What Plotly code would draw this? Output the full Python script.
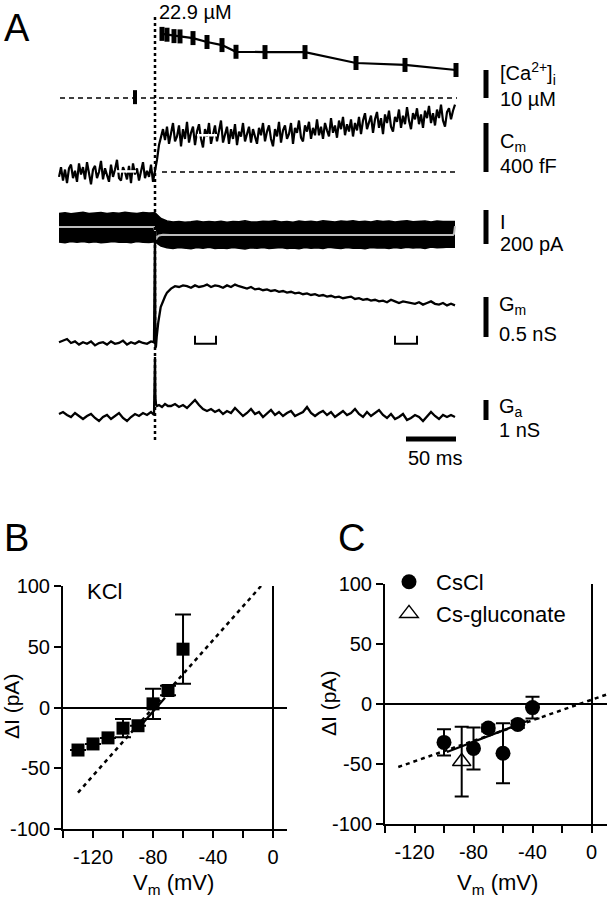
import numpy as np
import plotly.graph_objects as go

W, H = 607, 900
FONT = "Liberation Sans, Arial, sans-serif"

# ---------------- Panel A data (time in ms, stimulus at t = 0) ----------------
ca_pre_t = [-20]
ca_pre = [0.3]
ca_t = [7, 12, 19, 25, 38, 52, 67, 81, 110, 150, 201, 250, 301]
ca_val = [22.9, 22.6, 22.1, 22.0, 21.4, 20.0, 18.9, 16.5, 16.4, 16.4, 12.5, 11.8, 10.0]

cm_t = np.arange(-96, 301, 2)
cm_val = [-40, 40, -70, 20, -90, 30, 60, -50, 10, -80,
          70, -20, 40, -60, 80, -30, -100, 20, 50, -50,
          0, 90, -60, 30, -20, -80, 60, -40, 20, 100,
          -50, -70, 40, 0, -60, 50, -90, 70, -20, 30,
          -70, 20, 80, -50, 10, -40, 60, -80, 0,
          100, 220, 300, 350, 260,
          370, 230, 330, 400, 250, 290, 380, 210, 350, 270,
          410, 240, 320, 370, 220, 330, 390, 270, 200, 350,
          290, 400, 230, 320, 380, 250, 330, 420, 240, 300,
          370, 230, 350, 270, 390, 220, 330, 290, 400, 250,
          320, 370, 240, 350, 290,
          230, 360, 300, 400, 250, 330, 380, 270, 210, 350,
          290, 410, 240, 340, 380, 270, 310, 400, 230, 360,
          320, 420, 280, 250, 380, 330, 410, 270, 360, 300,
          430, 300, 370, 270, 400, 340, 290, 440, 320, 380,
          280, 420, 350, 450, 300, 390, 330, 430, 290, 400,
          340, 450, 310, 420, 480, 350, 400, 460, 320, 430,
          490, 360, 440, 310, 470, 400, 500, 370, 330, 450,
          410, 510, 360, 460, 390, 530, 420, 350, 480, 430,
          520, 390, 470, 360, 500, 440, 540, 400, 480, 380,
          510, 440, 550, 420, 370, 490, 520, 430, 500, 550]
cm_win_pre_t = [-39, -19]
cm_win_pre = [5, 5]
cm_win_post_t = [42, 62]
cm_win_post = [300, 300]

i_t = np.arange(-96, 301, 6)
i_top = [80, 84, 78, 83, 86, 79, 82, 85, 80, 84, 81, 87, 83, 79, 85, 82, 84,
         50, 36, 30, 33, 28, 31, 35, 29, 32, 30, 34, 28, 33, 31, 36, 30, 29, 34, 32, 37,
         30, 33, 28, 35, 31, 34, 29, 36, 32, 30, 35, 33, 37, 31, 34, 30, 36, 32, 35, 29,
         34, 37, 31, 33, 36, 30, 35, 32, 34, 33]
i_bot = [-88, -92, -86, -90, -85, -91, -87, -93, -89, -86, -90, -88, -92, -85, -89, -91, -87,
         -112, -122, -126, -120, -124, -128, -121, -125, -119, -127,
         -123, -126, -120, -124, -129, -122, -125, -121, -127, -123,
         -120, -126, -124, -128, -121, -125, -122, -127, -119, -124,
         -126, -121, -125, -123, -128, -120, -124, -122, -126, -121,
         -125, -119, -123, -121, -126, -118, -122, -120, -117, -119]
i_mean_t = [-96, -1, 0, 1, 2, 4, 8, 15, 298, 299, 300]
i_mean = [0, 0, -20, -75, -60, -50, -46, -47, -47, -40, 5]

gm_t = list(range(-96, 0, 4)) + [-1, 0, 0.4, 1, 1.7, 3.3, 5.7, 8, 10, 12] + list(range(16, 301, 4))
gm_val = [0.01, 0.03, 0.05, 0.00, 0.02, -0.02, 0.01, -0.01, 0.02, -0.03, 0.00, 0.01,
          -0.02, 0.02, -0.01, 0.00, 0.03, -0.02, 0.01, -0.01, 0.02, 0.00, -0.01, 0.02,
          0.01, 1.4, -0.06, -0.04, 0.075, 0.26, 0.45, 0.53, 0.58, 0.63,
          0.68, 0.71, 0.70, 0.72, 0.71, 0.69, 0.72, 0.70, 0.71, 0.73,
          0.70, 0.72, 0.71, 0.69, 0.72, 0.70, 0.73, 0.71, 0.69, 0.68,
          0.70, 0.67, 0.68, 0.66, 0.67, 0.65, 0.66, 0.64, 0.65, 0.63,
          0.64, 0.62, 0.63, 0.61, 0.62, 0.60, 0.61, 0.59, 0.60, 0.58,
          0.59, 0.57, 0.58, 0.56, 0.57, 0.58, 0.55, 0.56, 0.54, 0.55,
          0.53, 0.54, 0.52, 0.53, 0.51, 0.54, 0.52, 0.50, 0.52, 0.51,
          0.50, 0.49, 0.51, 0.48, 0.50, 0.52, 0.49, 0.48, 0.50, 0.47,
          0.49, 0.47]
gm_win1_t = [40, 40, 61, 61]
gm_win2_t = [240, 240, 262, 262]
gm_win_y = [0.09, -0.01, -0.01, 0.09]

ga_t = list(range(-96, 0, 4)) + [-1, 0, 0.4, 1, 2, 4, 7, 10, 13] + list(range(16, 301, 4))
ga_val = [0.05, 0.15, 0.0, -0.1, 0.1, -0.05, -0.2, -0.05, 0.05, -0.15, -0.3, -0.1,
          0.0, -0.2, -0.05, 0.1, -0.15, -0.3, -0.1, 0.05, -0.05, 0.1, 0.0, 0.15,
          0.0, 2.9, 0.9, 0.55, 0.45, 0.5, 0.4, 0.55, 0.45,
          0.45, 0.55, 0.4, 0.5, 0.35, 0.55, 0.75, 0.5, 0.3, 0.2,
          0.3, 0.15, 0.25, 0.05, 0.2, 0.1, 0.35, 0.15, -0.05, 0.1,
          0.3, 0.05, 0.15, -0.1, 0.1, 0.25, 0.0, 0.15, -0.05, 0.1,
          0.2, -0.05, 0.05, 0.15, 0.4, 0.1, -0.05, 0.1, 0.2, 0.0,
          0.15, -0.1, 0.05, 0.2, 0.0, 0.1, 0.3, 0.05, -0.1, 0.15,
          -0.05, 0.1, 0.25, 0.0, -0.15, 0.05, -0.2, -0.1, 0.05, -0.25,
          -0.15, 0.0, -0.1, -0.3, -0.05, 0.15, -0.05, -0.2, 0.0, -0.1,
          0.0, -0.1]

# scale bars (value extents)
sb_x = 331
sb_ca = [0, 10]
sb_cm = [0, 400]
sb_i = [-100, 100]
sb_gm = [0.075, 0.575]
sb_ga = [-0.25, 0.75]
sb_time = [251, 301]
sb_time_y = -1.2

# ---------------- Panel B data ----------------
kcl_v = [-130, -120, -110, -100, -90, -80, -70, -60]
kcl_i = [-35, -30, -25, -17, -15, 3, 14, 48]
kcl_err = [0, 0, 0, 7.5, 0, 12.5, 4, 28.5]
kcl_fit_v = [-91, -72]
kcl_fit_i = [-19, 8]
kcl_dot_v = [-130, -8]
kcl_dot_i = [-70, 100]

# ---------------- Panel C data ----------------
cscl_v = [-100, -80, -70, -60, -50, -40]
cscl_i = [-32, -37, -20, -41, -17, -3]
cscl_err = [11, 17.5, 3, 25, 3, 9]
csg_v = [-88]
csg_i = [-48]
csg_err = [29]
cscl_fit_v = [-98, -43]
cscl_fit_i = [-40, -14]
cscl_dot_v = [-131, 10.5]
cscl_dot_i = [-52.5, 8]

iv_major_x = [-120, -80, -40, 0]
iv_major_x_text = ["-120", "-80", "-40", "0"]
iv_minor_x = [-140, -100, -60, -20]
iv_ticks_y = [-100, -50, 0, 50, 100]
iv_ticks_y_text = ["-100", "-50", "0", "50", "100"]


def px(x):
    return x / W


def py(y):
    return 1 - y / H


def band(ytop, ybot, y0, k):
    dom = [py(ybot), py(ytop)]
    rng = [(y0 - ybot) / k, (y0 - ytop) / k]
    return dom, rng


fig = go.Figure()


def line(x, y, xa, ya, width=2, color="black", dash=None, mode="lines"):
    fig.add_trace(go.Scatter(x=x, y=y, xaxis=xa, yaxis=ya, mode=mode,
                             line=dict(color=color, width=width, dash=dash),
                             showlegend=False, hoverinfo="skip"))


# Ca trace
line([-95, 302], [0, 0], "x", "y", width=1.3, dash="5px,4px")
fig.add_trace(go.Scatter(x=ca_pre_t, y=ca_pre, xaxis="x", yaxis="y", mode="markers",
                         marker=dict(symbol="line-ns", size=10, line=dict(color="black", width=4)),
                         showlegend=False))
fig.add_trace(go.Scatter(x=ca_t, y=ca_val, xaxis="x", yaxis="y", mode="lines+markers",
                         line=dict(color="black", width=2.2),
                         marker=dict(symbol="line-ns", size=10, line=dict(color="black", width=5)),
                         showlegend=False))
# Cm trace
line([7, 302], [0, 0], "x", "y2", width=1.3, dash="5px,4px")
line(cm_t, cm_val, "x", "y2", width=2.2)
line(cm_win_pre_t, cm_win_pre, "x", "y2", width=2.5, color="white")
line(cm_win_post_t, cm_win_post, "x", "y2", width=2.5, color="white")
# I trace
line(i_t, i_top, "x", "y3", width=1.5)
fig.add_trace(go.Scatter(x=i_t, y=i_bot, xaxis="x", yaxis="y3", mode="lines",
                         line=dict(color="black", width=1.5), fill="tonexty",
                         fillcolor="black", showlegend=False))
line(i_mean_t, i_mean, "x", "y3", width=2, color="#bdbdbd")
# Gm trace
line(gm_t, gm_val, "x", "y4", width=2.3)
line(gm_win1_t, gm_win_y, "x", "y4", width=2)
line(gm_win2_t, gm_win_y, "x", "y4", width=2)
# Ga trace
line(ga_t, ga_val, "x", "y5", width=2.3)

# scale bars
line([sb_x, sb_x], sb_ca, "x", "y", width=5)
line([sb_x, sb_x], sb_cm, "x", "y2", width=5)
line([sb_x, sb_x], sb_i, "x", "y3", width=5)
line([sb_x, sb_x], sb_gm, "x", "y4", width=5)
line([sb_x, sb_x], sb_ga, "x", "y5", width=5)
line(sb_time, [sb_time_y, sb_time_y], "x", "y5", width=5)

# Panel B
line(kcl_dot_v, kcl_dot_i, "x2", "y6", width=2.5, dash="4px,4px")
line(kcl_fit_v, kcl_fit_i, "x2", "y6", width=2.2)
fig.add_trace(go.Scatter(x=kcl_v, y=kcl_i, xaxis="x2", yaxis="y6", mode="markers",
                         marker=dict(symbol="square", size=13, color="black"),
                         error_y=dict(type="data", array=kcl_err, thickness=2, width=8, color="black"),
                         showlegend=False))

# Panel C
line(cscl_dot_v, cscl_dot_i, "x3", "y7", width=2.5, dash="4px,4px")
line(cscl_fit_v, cscl_fit_i, "x3", "y7", width=2.2)
fig.add_trace(go.Scatter(x=cscl_v, y=cscl_i, xaxis="x3", yaxis="y7", mode="markers", name="CsCl",
                         marker=dict(symbol="circle", size=15, color="black"),
                         error_y=dict(type="data", array=cscl_err, thickness=2, width=7, color="black"),
                         showlegend=True))
fig.add_trace(go.Scatter(x=csg_v, y=csg_i, xaxis="x3", yaxis="y7", mode="markers", name="Cs-gluconate",
                         marker=dict(symbol="triangle-up-open", size=16, color="black",
                                     line=dict(width=1.5, color="black")),
                         error_y=dict(type="data", array=csg_err, thickness=2, width=7, color="black"),
                         showlegend=True))

hidden = dict(visible=False, fixedrange=True)
ca_dom, ca_rng = band(0, 110, 98, 2.8)
cm_dom, cm_rng = band(100, 195, 172, 0.1225)
i_dom, i_rng = band(190, 262, 227, 0.17)
gm_dom, gm_rng = band(200, 365, 343, 80)
ga_dom, ga_rng = band(340, 450, 415, 20)

common = dict(showline=True, linewidth=2, linecolor="black", ticks="outside", ticklen=7, tickwidth=2,
              tickcolor="black", showgrid=False, zeroline=True, zerolinewidth=2, zerolinecolor="black",
              tickfont=dict(size=20, color="black", family=FONT), automargin=False)
ivx = dict(tickvals=iv_major_x, ticktext=iv_major_x_text, ticklabelstandoff=2,
           minor=dict(tickvals=iv_minor_x, ticks="outside", ticklen=7, tickwidth=2, tickcolor="black",
                      showgrid=False),
           **common)
ivy = dict(tickvals=iv_ticks_y, ticktext=iv_ticks_y_text, range=[-100, 100], **common)

fig.update_layout(
    width=W, height=H, margin=dict(l=0, r=0, t=0, b=0),
    paper_bgcolor="white", plot_bgcolor="rgba(0,0,0,0)",
    font=dict(family=FONT, color="black", size=20),
    xaxis=dict(domain=[0, 1], range=[-155, 452], **hidden),
    yaxis=dict(domain=ca_dom, range=ca_rng, anchor="x", **hidden),
    yaxis2=dict(domain=cm_dom, range=cm_rng, anchor="x", **hidden),
    yaxis3=dict(domain=i_dom, range=i_rng, anchor="x", **hidden),
    yaxis4=dict(domain=gm_dom, range=gm_rng, anchor="x", **hidden),
    yaxis5=dict(domain=ga_dom, range=ga_rng, anchor="x", **hidden),
    xaxis2=dict(domain=[px(63), px(287)], anchor="y6", range=[-140, 9.3], **ivx),
    yaxis6=dict(domain=[py(829), py(586)], anchor="x2", **ivy),
    xaxis3=dict(domain=[px(385), 1.0], anchor="y7", range=[-140, 10.5], **ivx),
    yaxis7=dict(domain=[py(824), py(584)], anchor="x3", **ivy),
    showlegend=True,
    legend=dict(x=px(382), y=py(561), xanchor="left", yanchor="top", bgcolor="rgba(0,0,0,0)",
                traceorder="normal",
                font=dict(size=22, family=FONT, color="black"), itemwidth=44, tracegroupgap=0),
)

fig.add_shape(type="line", xref="x", yref="paper", x0=0, x1=0, y0=py(440), y1=py(15),
              line=dict(color="black", width=2.5, dash="3px,3px"))


def txt(x, y, s, size=20, xanchor="left", yanchor="middle", angle=0):
    fig.add_annotation(x=px(x), y=py(y), xref="paper", yref="paper", text=s, showarrow=False,
                       xanchor=xanchor, yanchor=yanchor, textangle=angle,
                       font=dict(size=size, family=FONT, color="black"))


txt(2, 28, "A", size=38)
txt(2, 538, "B", size=38)
txt(336, 538, "C", size=38)
txt(157, 12, "22.9 \u00b5M", size=20)
txt(498, 74, "[Ca<sup>2+</sup>]<sub>i</sub>")
txt(498, 99, "10 \u00b5M")
txt(498, 142, "C<sub>m</sub>")
txt(498, 166, "400 fF")
txt(498, 222, "I")
txt(498, 244, "200 pA")
txt(497, 305, "G<sub>m</sub>")
txt(497, 334, "0.5 nS")
txt(497, 407, "G<sub>a</sub>")
txt(497, 430, "1 nS")
txt(406, 458, "50 ms")
txt(85, 591, "KCl", size=22)
txt(11, 707, "\u0394I (pA)", size=21, xanchor="center", angle=-90)
txt(328, 704, "\u0394I (pA)", size=21, xanchor="center", angle=-90)
txt(173, 884, "V<sub>m</sub> (mV)", size=22, xanchor="center")
txt(497, 884, "V<sub>m</sub> (mV)", size=22, xanchor="center")

fig.write_html("out.html", config={"displayModeBar": False},
               post_script="document.body.style.margin='0px';")
